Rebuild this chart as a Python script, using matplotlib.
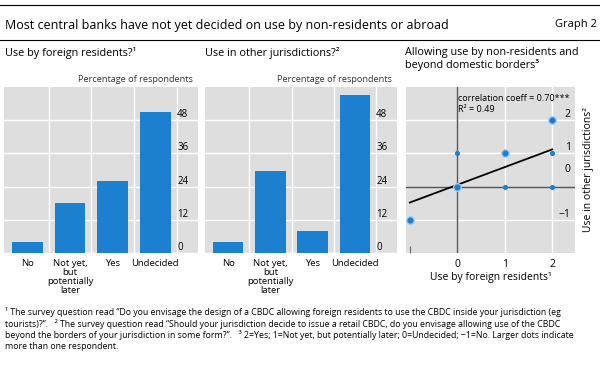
import matplotlib
matplotlib.use("Agg")
import matplotlib.pyplot as plt
import numpy as np

plt.rcParams['font.family'] = ['Open Sans', 'DejaVu Sans']

# bar panels
categories = ["No", "Not yet,\nbut\npotentially\nlater", "Yes", "Undecided"]
foreign_residents = [4, 18, 26, 51]
other_jurisdictions = [4, 29.5, 8, 57]
bar_ticks = [0, 12, 24, 36, 48]

# scatter panel: (foreign, other) answers, big = more than one respondent
big_x = [-1, 0, 1, 2]
big_y = [-1, 0, 1, 2]
small_x = [0, 2, 1, 2]
small_y = [1, 1, 0, 0]
fit_x = [-1, 2]
fit_y = [-0.48, 1.12]

blue = "#1b80cf"
grey_bg = "#dedede"

W, H = 600, 370
fig = plt.figure(figsize=(6, 3.7), dpi=100)


def box(x0, y0, x1, y1):
    # pixel box -> figure fraction
    return [x0 / W, 1 - y1 / H, (x1 - x0) / W, (y1 - y0) / H]


def bar_panel(rect, values):
    ax = fig.add_axes(rect)
    ax.set_facecolor(grey_bg)
    x = np.arange(len(values))
    ax.bar(x, values, width=0.72, color=blue, zorder=3)
    ax.set_xlim(-0.55, 4.0)
    ax.set_ylim(0, 60)
    ax.set_xticks(x)
    ax.set_xticklabels(categories, fontsize=6.8, linespacing=1.0)
    ax.set_xticks(list(x[:-1] + 0.5) + [3.5], minor=True)
    ax.set_yticks(bar_ticks)
    ax.yaxis.tick_right()
    ax.tick_params(axis='y', length=0, pad=-15, labelsize=7)
    ax.tick_params(axis='x', length=0, pad=4)
    ax.tick_params(which='minor', length=0)
    for lab in ax.get_yticklabels():
        lab.set_va('bottom')
    ax.grid(True, axis='y', color='white', lw=1, zorder=1)
    ax.grid(True, which='minor', axis='x', color='white', lw=1, zorder=1)
    for s in ax.spines.values():
        s.set_visible(False)
    return ax


ax1 = bar_panel(box(4, 87, 198, 253), foreign_residents)
ax2 = bar_panel(box(205, 87, 397, 253), other_jurisdictions)

# scatter panel
ax3 = fig.add_axes(box(406, 87, 575, 253))
ax3.set_facecolor(grey_bg)
ax3.set_xlim(-1.08, 2.48)
ax3.set_ylim(-2, 3)
ax3.axhline(0, color="#555555", lw=1, zorder=2)
ax3.axvline(0, color="#555555", lw=1, zorder=2)
ax3.plot(fit_x, fit_y, color='black', lw=1.3, zorder=3)
ax3.scatter(big_x, big_y, s=30, color=blue, edgecolor="#a6cdee", lw=1, zorder=4)
ax3.scatter(small_x, small_y, s=7, color=blue, zorder=4)
ax3.set_xticks([0, 1, 2])
ax3.set_xticks([-1], minor=True)
ax3.set_yticks([-1, 1, 2])
ax3.set_yticks([0.35], minor=True)
ax3.set_yticklabels(['\u22121', '1', '2'])
ax3.yaxis.tick_right()
ax3.tick_params(axis='y', which='both', length=0, pad=-3, labelsize=7.5)
ax3.tick_params(axis='x', length=0, pad=4, labelsize=7.5)
ax3.tick_params(axis='x', which='minor', direction='in', length=5,
                color="#666666", width=0.8)
ax3.yaxis.set_minor_formatter(matplotlib.ticker.FixedFormatter(['0']))
ax3.tick_params(axis='y', which='minor', labelright=True, labelleft=False)
for lab in ax3.get_yticklabels() + ax3.get_yticklabels(minor=True):
    lab.set_ha('right')
    lab.set_va('bottom')
ax3.grid(True, which='major', color='white', lw=1, zorder=1)
for s in ax3.spines.values():
    s.set_visible(False)
ax3.text(0.01, 2.8, "correlation coeff = 0.70***", fontsize=6.5,
         va='top', ha='left', zorder=5)
ax3.text(0.01, 2.47, "R\u00b2 = 0.49", fontsize=6.5,
         va='top', ha='left', zorder=5)
ax3.set_xlabel("Use by foreign residents\u00b9", fontsize=7.5, labelpad=2)
fig.text(589 / W, 1 - 170 / H, "Use in other jurisdictions\u00b2", rotation=90,
         fontsize=7.5, ha='center', va='center')

# header
fig.add_artist(plt.Line2D([0, 1], [1 - 5 / H, 1 - 5 / H], color='black', lw=0.8))
fig.add_artist(plt.Line2D([0, 1], [1 - 40 / H, 1 - 40 / H], color='black', lw=0.8))
fig.text(5 / W, 1 - 25 / H,
         "Most central banks have not yet decided on use by non-residents or abroad",
         fontsize=9, va='center', ha='left')
fig.text(597 / W, 1 - 25 / H, "Graph 2", fontsize=8, va='center', ha='right')

fig.text(5 / W, 1 - 53 / H, "Use by foreign residents?\u00b9", fontsize=7.8, va='center')
fig.text(205 / W, 1 - 53 / H, "Use in other jurisdictions?\u00b2", fontsize=7.8, va='center')
fig.text(405 / W, 1 - 59 / H,
         "Allowing use by non-residents and\nbeyond domestic borders\u00b3",
         fontsize=7.8, va='center', linespacing=1.05)
fig.text(193 / W, 1 - 79 / H, "Percentage of respondents", fontsize=6.6,
         ha='right', va='center', color="#333333")
fig.text(392 / W, 1 - 79 / H, "Percentage of respondents", fontsize=6.6,
         ha='right', va='center', color="#333333")

notes = ("\u00b9 The survey question read \u201cDo you envisage the design of a CBDC allowing foreign residents to use the CBDC inside your jurisdiction (eg\n"
         "tourists)?\u201d.   \u00b2 The survey question read \u201cShould your jurisdiction decide to issue a retail CBDC, do you envisage allowing use of the CBDC\n"
         "beyond the borders of your jurisdiction in some form?\u201d.   \u00b3 2=Yes; 1=Not yet, but potentially later; 0=Undecided; \u22121=No. Larger dots indicate\n"
         "more than one respondent.")
fig.text(5 / W, 1 - 307 / H, notes, fontsize=6.3, va='top', ha='left', linespacing=1.2)

fig.savefig("out.png", dpi=100)
